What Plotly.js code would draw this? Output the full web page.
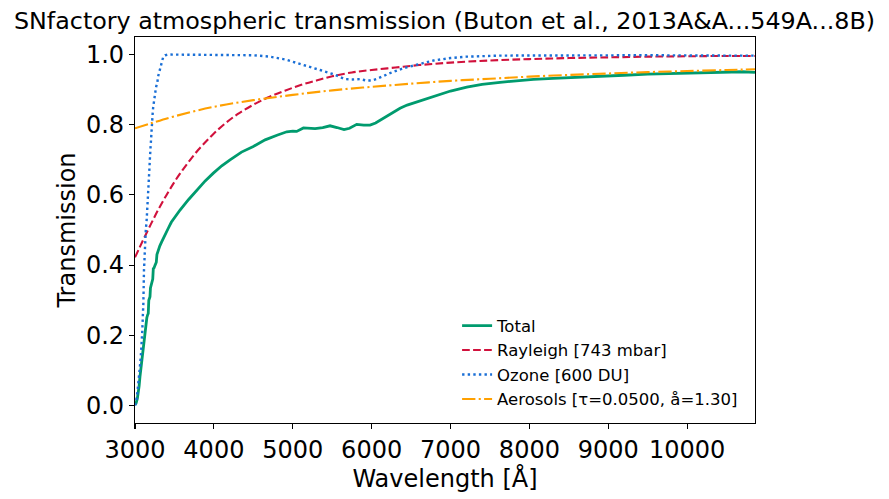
<!DOCTYPE html>
<html>
<head>
<meta charset="utf-8">
<script src="https://cdn.plot.ly/plotly-3.0.1.min.js"></script>
<style>
  html, body { margin: 0; padding: 0; background: #ffffff; }
  #chart { width: 889px; height: 499px; }
</style>
</head>
<body>
<div id="chart"></div>
<script>
// Wavelength grids [Å] and transmission values for each component

const totalWave = [3000, 3013, 3030, 3042, 3052, 3063, 3080, 3097, 3112, 3127, 3140, 3150, 3160, 3168,
  3175, 3183, 3190, 3196, 3203, 3215, 3225, 3232, 3241, 3255, 3270, 3278, 3290, 3300, 3315, 3338,
  3360, 3380, 3422, 3460, 3507, 3571, 3680, 3782, 3890, 3993, 4100, 4205, 4350, 4500, 4650, 4800,
  4924, 5000, 5050, 5135, 5283, 5380, 5473, 5560, 5620, 5650, 5720, 5811, 5900, 5980, 6050, 6120,
  6192, 6280, 6360, 6450, 6614, 6783, 7000, 7206, 7400, 7628, 7850, 8051, 8300, 8473, 8700, 8896,
  9200, 9500, 9800, 10100, 10400, 10700, 10860];
const totalTrans = [0.002, 0.006, 0.020, 0.034, 0.055, 0.082, 0.115, 0.148, 0.180, 0.215, 0.235, 0.250, 0.258, 0.262,
  0.300, 0.305, 0.310, 0.335, 0.340, 0.350, 0.360, 0.390, 0.392, 0.400, 0.408, 0.430, 0.440, 0.445, 0.455, 0.466,
  0.477, 0.488, 0.505, 0.522, 0.537, 0.557, 0.587, 0.614, 0.640, 0.662, 0.683, 0.700, 0.722, 0.738, 0.757, 0.770,
  0.780, 0.782, 0.781, 0.791, 0.789, 0.792, 0.797, 0.792, 0.787, 0.786, 0.790, 0.801, 0.799, 0.799, 0.805, 0.815,
  0.825, 0.836, 0.847, 0.856, 0.868, 0.882, 0.896, 0.907, 0.915, 0.921, 0.926, 0.929, 0.932, 0.934, 0.937, 0.939,
  0.941, 0.944, 0.946, 0.948, 0.950, 0.951, 0.949];

const rayleighWave = [3000, 3100, 3200, 3300, 3400, 3500, 3600, 3700, 3800, 3900, 4000, 4150, 4300, 4500,
  4700, 4900, 5100, 5300, 5500, 5750, 6000, 6300, 6600, 7000, 7500, 8000, 8500, 9000, 9500, 10000, 10500, 10860];
const rayleighTrans = [0.422, 0.470, 0.516, 0.560, 0.600, 0.637, 0.670, 0.700, 0.728, 0.752, 0.775, 0.805, 0.830, 0.857,
  0.879, 0.897, 0.913, 0.926, 0.938, 0.949, 0.956, 0.963, 0.970, 0.977, 0.983, 0.987, 0.990, 0.992, 0.994, 0.995, 0.996, 0.996];

const ozoneWave = [3000, 3013, 3029, 3042, 3055, 3066, 3076, 3086, 3093, 3100, 3106, 3114, 3120, 3127, 3137,
  3148, 3157, 3165, 3172, 3178, 3184, 3190, 3195, 3199, 3205, 3212, 3220, 3226, 3232, 3240, 3247, 3254,
  3262, 3270, 3277, 3283, 3290, 3300, 3308, 3318, 3328, 3338, 3348, 3359, 3380, 3420, 4300, 4500, 4712,
  4924, 5050, 5177, 5346, 5515, 5600, 5663, 5760, 5853, 5930, 6001, 6060, 6107, 6180, 6255, 6330, 6402,
  6572, 6783, 7000, 7206, 7628, 8500, 9500, 10500, 10860];
const ozoneTrans = [0.000, 0.010, 0.034, 0.060, 0.091, 0.120, 0.148, 0.180, 0.215, 0.260, 0.291, 0.386, 0.430, 0.471, 0.500,
  0.529, 0.560, 0.586, 0.620, 0.643, 0.680, 0.709, 0.730, 0.757, 0.780, 0.804, 0.830, 0.840, 0.852, 0.870, 0.880, 0.885,
  0.900, 0.910, 0.915, 0.918, 0.935, 0.945, 0.951, 0.960, 0.968, 0.975, 0.985, 0.994, 0.998, 1.000, 1.000, 0.998, 0.994,
  0.985, 0.976, 0.968, 0.956, 0.944, 0.936, 0.930, 0.929, 0.930, 0.926, 0.926, 0.930, 0.935, 0.942, 0.949, 0.955, 0.961,
  0.971, 0.983, 0.990, 0.994, 0.997, 0.998, 0.998, 0.997, 0.997];

const aerosolWave = [3000, 3200, 3500, 4000, 4500, 5000, 5500, 6000, 6500, 7000, 7500, 8000, 8500, 9000,
  9500, 10000, 10500, 10860];
const aerosolTrans = [0.790, 0.804, 0.824, 0.851, 0.870, 0.885, 0.898, 0.908, 0.917, 0.925, 0.931, 0.937, 0.942, 0.946,
  0.950, 0.953, 0.956, 0.958];

const legendNames = ['Total', 'Rayleigh [743 mbar]', 'Ozone [600 DU]', 'Aerosols [τ=0.0500, å=1.30]'];
const xTicks = [3000, 4000, 5000, 6000, 7000, 8000, 9000, 10000];
const yTicks = [0.0, 0.2, 0.4, 0.6, 0.8, 1.0];

const FONT = 'DejaVu Sans, Arial, sans-serif';

const traces = [
  {
    x: totalWave, y: totalTrans, name: legendNames[0], mode: 'lines',
    line: { color: '#009b6e', width: 2.8 }
  },
  {
    x: rayleighWave, y: rayleighTrans, name: legendNames[1], mode: 'lines',
    line: { color: '#d1113c', width: 2.1, dash: '7.7px,3.3px', shape: 'spline' }
  },
  {
    x: ozoneWave, y: ozoneTrans, name: legendNames[2], mode: 'lines',
    line: { color: '#1a6fd6', width: 2.4, dash: '2.4px,3.2px' }
  },
  {
    x: aerosolWave, y: aerosolTrans, name: legendNames[3], mode: 'lines',
    line: { color: '#ffa000', width: 2.1, dash: '13.3px,3.3px,2.1px,3.3px', shape: 'spline' }
  }
];

const axisCommon = {
  showgrid: false,
  zeroline: false,
  showline: true,
  linecolor: '#000000',
  linewidth: 1.1,
  mirror: true,
  ticks: 'outside',
  ticklen: 5,
  tickwidth: 1.1,
  tickcolor: '#000000',
  tickfont: { family: FONT, size: 24, color: '#000000' }
};

const layout = {
  width: 889,
  height: 499,
  paper_bgcolor: '#ffffff',
  plot_bgcolor: '#ffffff',
  margin: { l: 135, r: 134, t: 37, b: 76, pad: 0 },
  font: { family: FONT, color: '#000000' },
  title: {
    text: 'SNfactory atmospheric transmission (Buton et al., 2013A&A...549A...8B)',
    font: { family: FONT, size: 23.8, color: '#000000' },
    x: 0.5, xref: 'container', xanchor: 'center',
    y: 1 - 21 / 499, yref: 'container', yanchor: 'middle'
  },
  xaxis: Object.assign({}, axisCommon, {
    range: [3000, 10860],
    tickmode: 'array',
    tickvals: xTicks,
    ticktext: xTicks.map(String),
    title: { text: 'Wavelength [Å]', font: { family: FONT, size: 24, color: '#000000' }, standoff: 6 },
    automargin: false
  }),
  yaxis: Object.assign({}, axisCommon, {
    range: [-0.05, 1.05],
    tickmode: 'array',
    tickvals: yTicks,
    ticktext: yTicks.map(v => v.toFixed(1)),
    title: { text: 'Transmission', font: { family: FONT, size: 24, color: '#000000' }, standoff: 3 },
    automargin: false
  }),
  showlegend: true,
  legend: {
    x: 0.5195, xanchor: 'left',
    y: 0.297, yanchor: 'top',
    bgcolor: 'rgba(255,255,255,0)',
    borderwidth: 0,
    traceorder: 'normal',
    font: { family: FONT, size: 16.5, color: '#000000' }
  }
};

Plotly.newPlot('chart', traces, layout, { displayModeBar: false, staticPlot: true });
</script>
</body>
</html>
